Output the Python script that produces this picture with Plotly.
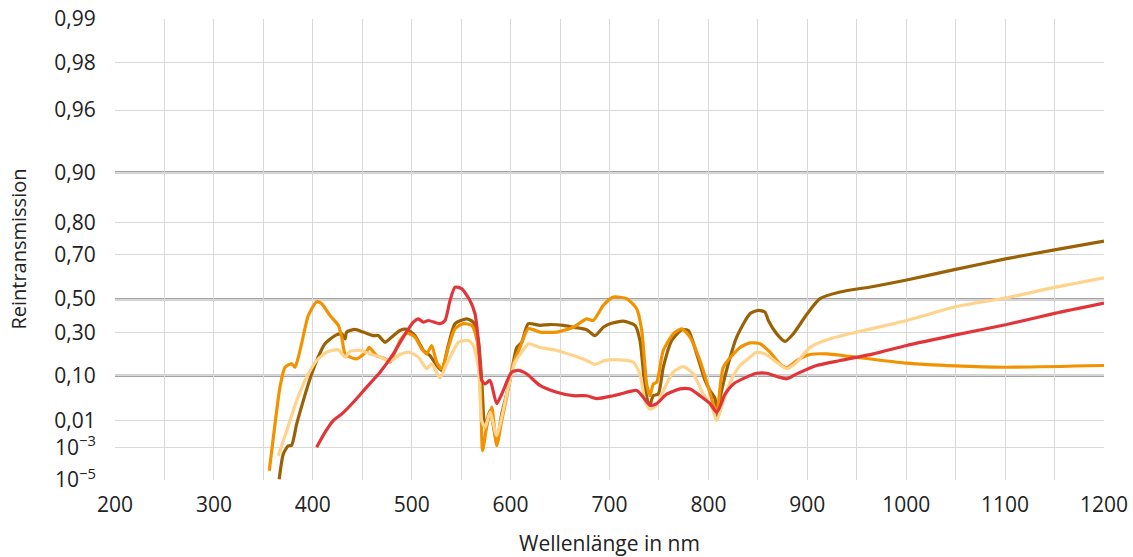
import numpy as np
import plotly.graph_objects as go

# ---- spectral data: wavelength (nm) and pure transmission ----
brown_nm = [366, 370.2, 375.2, 378.6, 383.7, 390.4, 397.2, 403.9, 412.3, 422.4, 429.2, 432.6, 434.2,
            442.6, 451.1, 461.2, 466.2, 473, 479.8, 488.2, 495, 503.3, 511.8, 518.5, 525.3, 530.3,
            537, 543.8, 555.6, 562.3, 567.4, 570.8, 574, 579.2, 585.9, 591, 599.4, 606.2, 611.2,
            617.9, 629.7, 639.8, 653.3, 663.4, 676.9, 685.3, 693.7, 700.5, 714, 725.8, 730.8,
            735.9, 740.2, 744.3, 749.3, 754.4, 762.9, 773, 779.7, 788.2, 796.6, 801.6, 806.7,
            808.4, 813.4, 820.1, 828.6, 842, 850.5, 857.2, 860.6, 869.1, 877.5, 885.8, 899.9,
            912.8, 933.1, 966.8, 1000.5, 1050, 1101.6, 1150, 1200]
brown_t = [1.1e-5, 4e-4, 1.15e-3, 1.2e-3, 7.5e-3, 0.028, 0.086, 0.171, 0.249, 0.287, 0.295, 0.272, 0.304,
           0.32, 0.304, 0.287, 0.287, 0.256, 0.28, 0.314, 0.32, 0.287, 0.218, 0.194, 0.148, 0.125,
           0.241, 0.354, 0.383, 0.363, 0.264, 0.079, 5.6e-3, 0.0167, 1.7e-3, 0.014, 0.079, 0.232, 0.256,
           0.354, 0.344, 0.349, 0.344, 0.333, 0.318, 0.287, 0.333, 0.354, 0.369, 0.344, 0.264,
           0.056, 0.0206, 0.036, 0.039, 0.14, 0.264, 0.318, 0.314, 0.202, 0.079, 0.047, 0.031,
           0.0129, 0.047, 0.156, 0.28, 0.413, 0.433, 0.423, 0.373, 0.295, 0.26, 0.295, 0.413,
           0.502, 0.532, 0.557, 0.586, 0.634, 0.682, 0.715, 0.742]

orange_nm = [356, 361.8, 366.8, 371.9, 378.6, 382, 387.1, 395.5, 403.9, 409, 417.4, 425.8, 429.2,
             432.6, 437.7, 444.4, 449.5, 454.5, 457, 464.6, 473, 478.1, 483.1, 488.2, 495, 503.3,
             510, 515.2, 520.2, 525.3, 530.3, 537, 543.8, 552.2, 560.7, 565.7, 569.1, 571.7, 575.7,
             580.9, 585.9, 591, 596, 602.7, 609.5, 617.9, 629.7, 646.6, 663.4, 676.9, 683.6, 693.7,
             703.8, 717.4, 727.5, 732.6, 737.6, 741, 744.3, 747.7, 754.4, 764.5, 773, 781.4, 791.5,
             799.9, 808.4, 815.1, 832, 842, 852.2, 862.3, 872.4, 879.2, 889.3, 902.7, 919.6, 943,
             1000, 1050, 1100, 1200]
orange_t = [3.7e-5, 7.5e-3, 0.056, 0.14, 0.156, 0.14, 0.218, 0.403, 0.485, 0.473, 0.403, 0.344, 0.28,
            0.202, 0.187, 0.179, 0.194, 0.214, 0.232, 0.194, 0.179, 0.163, 0.21, 0.264, 0.298, 0.28,
            0.226, 0.202, 0.241, 0.163, 0.133, 0.232, 0.324, 0.354, 0.344, 0.272, 0.125, 6.3e-4, 5.6e-3,
            0.02, 1.15e-3, 0.01, 0.033, 0.156, 0.232, 0.324, 0.304, 0.304, 0.333, 0.383, 0.373, 0.463,
            0.509, 0.502, 0.443, 0.314, 0.066, 0.036, 0.066, 0.072, 0.218, 0.295, 0.324, 0.28, 0.171,
            0.056, 0.015, 0.14, 0.232, 0.253, 0.249, 0.21, 0.156, 0.137, 0.171, 0.199, 0.202, 0.19,
            0.159, 0.146, 0.14, 0.148]

peach_nm = [365.1, 373.6, 383.7, 393.8, 403.9, 414, 425.8, 432.6, 437.7, 447.8, 457.9, 468, 478.1,
            488.2, 496.6, 506.7, 515.2, 520.2, 528.6, 535.4, 543.8, 547.1, 557.2, 562.3, 567.4,
            570.8, 574.2, 579.2, 585.9, 591, 597.7, 604.4, 611.2, 617.9, 629.7, 646.6, 663.4,
            676.9, 685.3, 695.4, 710.6, 724.1, 730.8, 735.9, 741, 747.7, 756.1, 764.5, 774.6,
            784.7, 794.8, 803.3, 808.4, 815.1, 823.6, 832, 842.1, 848.8, 857.2, 869, 879.2, 889.3,
            902.7, 922.9, 949.9, 983.6, 1000.5, 1050, 1101.6, 1150, 1200]
peach_t = [3.1e-4, 4.2e-3, 0.028, 0.093, 0.171, 0.21, 0.221, 0.187, 0.214, 0.218, 0.202, 0.187, 0.168,
           0.199, 0.21, 0.187, 0.133, 0.156, 0.09, 0.156, 0.232, 0.256, 0.264, 0.241, 0.14,
           0.01, 5.6e-3, 0.0153, 2.7e-3, 0.0119, 0.056, 0.163, 0.21, 0.249, 0.232, 0.218, 0.194,
           0.171, 0.153, 0.171, 0.174, 0.163, 0.109, 0.028, 0.018, 0.022, 0.056, 0.117, 0.143,
           0.109, 0.039, 0.02, 0.01, 0.028, 0.086, 0.148, 0.187, 0.21, 0.202, 0.163, 0.133, 0.163,
           0.232, 0.272, 0.304, 0.349, 0.373, 0.455, 0.506, 0.553, 0.596]

red_nm = [403.9, 412.3, 420.7, 429.2, 441, 454.5, 468, 481.4, 491.5, 501.6, 506.7, 511.8, 516.8,
          528.6, 533.7, 538.7, 543.8, 550.5, 558.9, 564, 567.4, 570.8, 574.2, 579.2, 585.9, 592.6,
          601, 607.7, 616.2, 629.7, 646.6, 663.4, 676.9, 687, 703.8, 710.6, 727.5, 734.2, 741,
          747.7, 757.8, 771.3, 781.4, 791.5, 801.6, 808.4, 816.9, 825.3, 842, 848.8, 858.9, 869,
          879.2, 889.3, 909.5, 933.1, 966.8, 1000.5, 1050, 1101.6, 1150, 1200]
red_t = [1e-3, 3.6e-3, 0.01, 0.014, 0.0257, 0.056, 0.117, 0.202, 0.28, 0.363, 0.383, 0.363, 0.373,
         0.354, 0.373, 0.49, 0.554, 0.547, 0.492, 0.413, 0.264, 0.079, 0.066, 0.079, 0.024, 0.047,
         0.117, 0.125, 0.109, 0.061, 0.043, 0.036, 0.036, 0.031, 0.036, 0.039, 0.047, 0.033, 0.022,
         0.024, 0.039, 0.051, 0.051, 0.036, 0.024, 0.0153, 0.039, 0.066, 0.101, 0.112, 0.112, 0.097,
         0.086, 0.109, 0.148, 0.171, 0.202, 0.241, 0.29, 0.349, 0.415, 0.476]

# ---- y scale: transmission ticks and their place on the drawn axis ----
tick_t = [1e-5, 1e-3, 0.01, 0.10, 0.30, 0.50, 0.70, 0.80, 0.90, 0.96, 0.98, 0.99]
tick_pos = [0, 32.6, 59.3, 104, 147, 180.6, 225, 257, 307.3, 369.3, 417, 460.3]
tick_text = ["10<sup>\u22125</sup>", "10<sup>\u22123</sup>", "0,01", "0,10", "0,30", "0,50",
             "0,70", "0,80", "0,90", "0,96", "0,98", "0,99"]
major_t = [0.10, 0.50, 0.90]


def to_axis(t):
    """Map transmission onto the chart's stretched y scale (log below 0.1)."""
    t = np.asarray(t, dtype=float)
    lo_t = np.log10(tick_t[:4])
    lo_p = tick_pos[:4]
    hi_t = tick_t[3:]
    hi_p = tick_pos[3:]
    low = np.interp(np.log10(t), lo_t, lo_p)
    high = np.interp(t, hi_t, hi_p)
    return np.where(t < 0.1, low, high)


series = [
    (brown_nm, brown_t, "#9A6205"),
    (orange_nm, orange_t, "#F39200"),
    (peach_nm, peach_t, "#FFD38C"),
    (red_nm, red_t, "#E2353A"),
]

fig = go.Figure()
for nm, t, color in series:
    fig.add_trace(go.Scatter(
        x=nm, y=to_axis(t), mode="lines",
        line=dict(color=color, width=3.2, shape="spline", smoothing=0.6),
        hoverinfo="skip", showlegend=False,
    ))

for t in major_t:
    yv = float(to_axis([t])[0])
    fig.add_shape(type="line", xref="paper", x0=0, x1=1, yref="y", y0=yv, y1=yv,
                  line=dict(color="#A3A3A3", width=2.5), layer="below")

# vertical axis title, set close to the page edge
fig.add_annotation(
    text="Reintransmission", textangle=-90,
    xref="paper", x=-0.098, xanchor="center",
    yref="paper", y=0.5, yanchor="middle",
    showarrow=False, font=dict(size=20, color="#222222"),
)

font = "Open Sans"
fig.update_layout(
    width=1133, height=557,
    margin=dict(l=115, r=29, t=19, b=77, autoexpand=False),
    paper_bgcolor="white", plot_bgcolor="white",
    font=dict(family=font, size=22, color="#222222"),
    xaxis=dict(
        range=[200, 1200], tickmode="array", tickvals=list(range(200, 1201, 100)),
        automargin=False,
        showgrid=True, gridcolor="#D9D9D9", gridwidth=1.3,
        minor=dict(dtick=50, tick0=200, showgrid=True, gridcolor="#D9D9D9", gridwidth=1.3),
        zeroline=False, showline=False,
        ticks="outside", ticklen=6, tickcolor="rgba(0,0,0,0)",
        tickfont=dict(size=21),
        title=dict(text="Wellenlänge in nm", font=dict(size=21), standoff=22),
    ),
    yaxis=dict(
        range=[0, 460.3], tickmode="array", tickvals=tick_pos, ticktext=tick_text,
        automargin=False,
        showgrid=True, gridcolor="#D9D9D9", gridwidth=1.3,
        zeroline=False, showline=False,
        ticks="outside", ticklen=14, tickcolor="rgba(0,0,0,0)",
        tickfont=dict(size=21),
    ),
)

fig.write_html("out.html")
